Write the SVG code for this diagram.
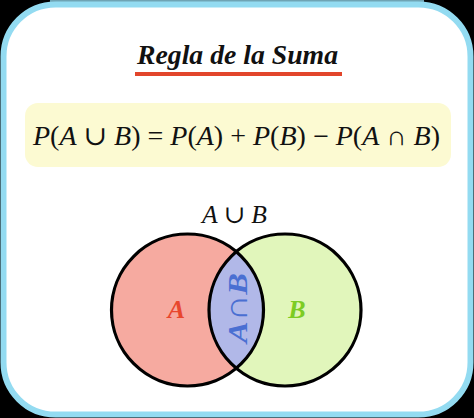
<svg xmlns="http://www.w3.org/2000/svg" width="474" height="418" viewBox="0 0 474 418">
<style>
.serif{font-family:"Liberation Serif","DejaVu Serif",serif;}
.i{font-style:italic;}
.circ{stroke:#000;stroke-width:3.2;}
</style>
<rect x="0" y="0" width="474" height="418" fill="#000"/>
<rect x="50" y="0" width="374" height="3" fill="#6fa4b4"/>
<g id="frame">
<rect x="3.5" y="4.5" width="467" height="410" rx="52" fill="#fff" stroke="#93dbf1" stroke-width="6"/>
</g>
<g id="title">
<text class="serif" x="237.5" y="64" font-size="27" font-weight="bold" font-style="italic" text-anchor="middle" textLength="201" lengthAdjust="spacingAndGlyphs" fill="#111">Regla de la Suma</text>
<rect x="135" y="72" width="207" height="4" fill="#e2452b"/>
</g>
<g id="formula">
<rect x="25" y="103" width="426" height="64" rx="13" fill="#fcfad2"/>
<text class="serif" x="33" y="145" font-size="27" textLength="407" lengthAdjust="spacingAndGlyphs" fill="#111"><tspan class="i">P</tspan>(<tspan class="i">A</tspan> ∪ <tspan class="i">B</tspan>) = <tspan class="i">P</tspan>(<tspan class="i">A</tspan>) + <tspan class="i">P</tspan>(<tspan class="i">B</tspan>) − <tspan class="i">P</tspan>(<tspan class="i">A</tspan> ∩ <tspan class="i">B</tspan>)</text>
</g>
<g id="venn">
<defs>
<clipPath id="clipA"><circle cx="187.5" cy="310" r="76"/></clipPath>
</defs>
<g id="setA"><circle cx="187.5" cy="310" r="76" fill="#f6aaa0"/></g>
<g id="setB"><circle cx="285" cy="310" r="76" fill="#e1f6bb"/></g>
<g id="intersection"><circle cx="285" cy="310" r="76" fill="#b1b8e8" clip-path="url(#clipA)"/></g>
<circle class="circ" cx="187.5" cy="310" r="76" fill="none"/>
<circle class="circ" cx="285" cy="310" r="76" fill="none"/>
<text class="serif i" x="234.5" y="223" font-size="25" text-anchor="middle" textLength="65" lengthAdjust="spacingAndGlyphs" fill="#111">A ∪ B</text>
<text class="serif i" x="176.5" y="318" font-size="26" font-weight="bold" text-anchor="middle" fill="#e8472e">A</text>
<text class="serif i" x="297" y="318" font-size="26" font-weight="bold" text-anchor="middle" fill="#7ccc24">B</text>
<text class="serif" transform="translate(247,308) rotate(-90)" x="0" y="0" font-size="28" font-weight="bold" text-anchor="middle" textLength="70" lengthAdjust="spacingAndGlyphs" fill="#4a6fd2"><tspan class="i">A</tspan><tspan font-size="32" font-weight="normal">∩</tspan><tspan class="i">B</tspan></text>
</g>
</svg>
